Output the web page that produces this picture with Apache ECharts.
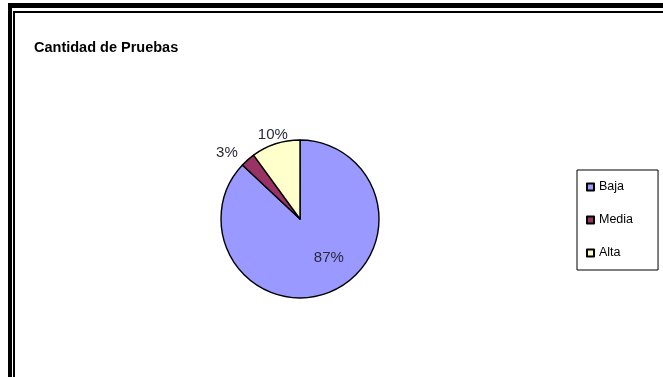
<!DOCTYPE html>
<html>
<head>
<meta charset="utf-8">
<style>
  html, body { margin: 0; padding: 0; background: #fff; }
  #chart { width: 663px; height: 377px; }
</style>
<script src="https://cdn.jsdelivr.net/npm/echarts@6/dist/echarts.min.js"></script>
</head>
<body>
<div id="chart"></div>
<script>
// Test counts by priority level
const chartTitle = 'Cantidad de Pruebas';
const categories = ['Baja', 'Media', 'Alta'];
const shares = [87, 3, 10];
const sliceColors = ['#9999FF', '#993366', '#FFFFCC'];

const chart = echarts.init(document.getElementById('chart'), null, { renderer: 'canvas' });

const pieData = categories.map((name, i) => ({
  name: name,
  value: shares[i],
  itemStyle: { color: sliceColors[i] },
  label: i === 0
    ? { position: 'inside' }
    : { position: 'outside', distanceToLabelLine: i === 1 ? 4 : 0 }
}));

chart.setOption({
  animation: false,
  backgroundColor: '#fff',
  title: {
    text: chartTitle,
    left: 34,
    top: 40,
    padding: 0,
    textStyle: {
      fontFamily: 'Liberation Sans, Arial, sans-serif',
      fontSize: 14.5,
      fontWeight: 'bold',
      color: '#000'
    }
  },
  legend: {
    orient: 'vertical',
    left: 577,
    top: 170,
    padding: [10, 25, 10, 9],
    borderColor: '#000',
    borderWidth: 1,
    itemWidth: 7,
    itemHeight: 7,
    itemGap: 19,
    icon: 'rect',
    selectedMode: false,
    textStyle: {
      fontFamily: 'Liberation Sans, Arial, sans-serif',
      fontSize: 12.5,
      lineHeight: 14,
      color: '#000'
    },
    data: categories
  },
  graphic: [
    // double frame along the top and left edges
    { type: 'rect', shape: { x: 8, y: 3, width: 660, height: 5 }, style: { fill: '#000' }, silent: true },
    { type: 'rect', shape: { x: 8, y: 3, width: 4, height: 380 }, style: { fill: '#000' }, silent: true },
    { type: 'rect', shape: { x: 13, y: 11, width: 655, height: 2 }, style: { fill: '#000' }, silent: true },
    { type: 'rect', shape: { x: 13, y: 11, width: 2, height: 380 }, style: { fill: '#000' }, silent: true }
  ],
  series: [{
    type: 'pie',
    center: [300, 219],
    radius: 79,
    startAngle: 90,
    clockwise: true,
    avoidLabelOverlap: false,
    itemStyle: { borderColor: '#000', borderWidth: 1.4 },
    emphasis: { disabled: true },
    label: {
      formatter: '{d}%',
      fontFamily: 'Liberation Sans, Arial, sans-serif',
      fontSize: 15,
      color: '#2a2a3a'
    },
    labelLine: { show: false, length: 9, length2: 0 },
    labelLayout: function (p) {
      if (p.dataIndex === 0) return { dx: 12 };
      if (p.dataIndex === 2) return { align: 'center' };
      return {};
    },
    data: pieData
  }]
});
</script>
</body>
</html>
